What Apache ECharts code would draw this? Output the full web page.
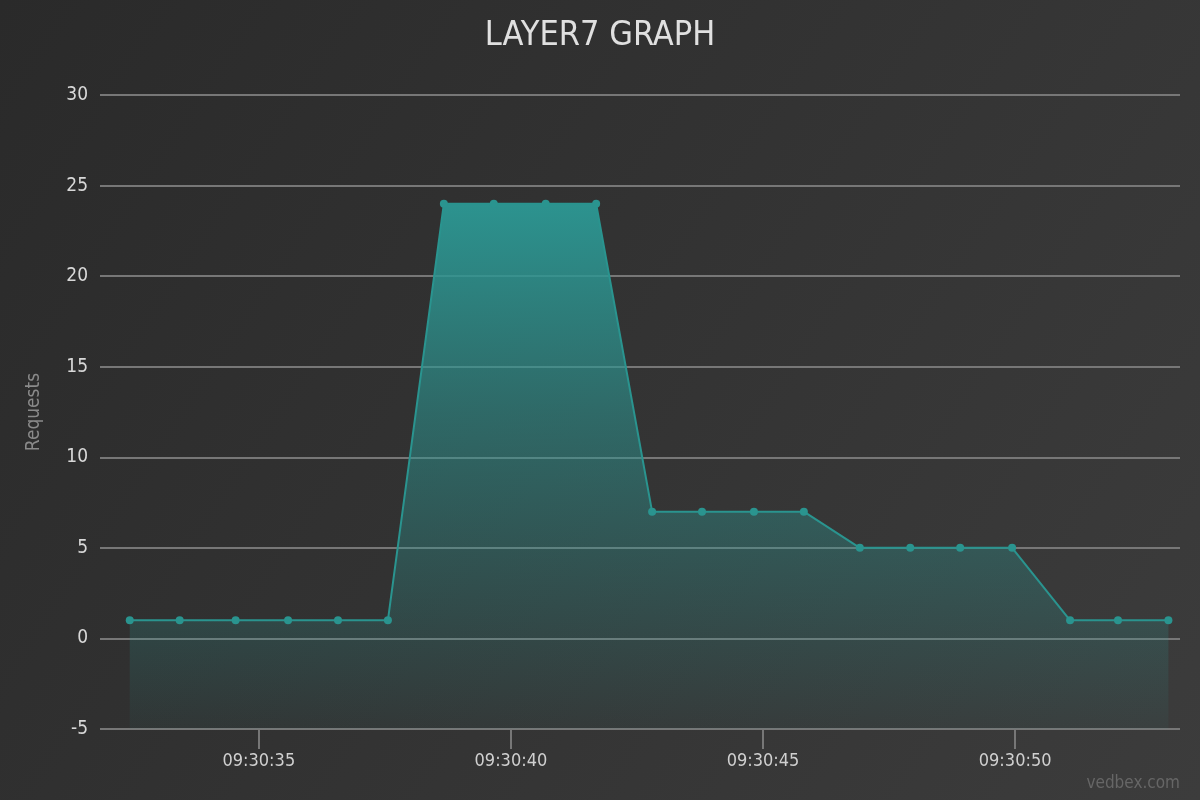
<!DOCTYPE html>
<html>
<head>
<meta charset="utf-8">
<script src="https://cdn.jsdelivr.net/npm/echarts@6/dist/echarts.min.js"></script>
<style>
html,body{margin:0;padding:0;width:1200px;height:800px;overflow:hidden;}
#c{width:1200px;height:800px;}
</style>
</head>
<body>
<div id="c"></div>
<script>
// seconds after 09:30:00
const times = [32.44, 33.43, 34.54, 35.58, 36.57, 37.56, 38.67, 39.66, 40.69, 41.69, 42.80, 43.79, 44.82, 45.81, 46.92, 47.92, 48.91, 49.94, 51.09, 52.04, 53.04];
const requests = [1, 1, 1, 1, 1, 1, 24, 24, 24, 24, 7, 7, 7, 7, 5, 5, 5, 5, 1, 1, 1];
const xTickSeconds = [35, 40, 45, 50];
const titleText = 'LAYER7 GRAPH';
const yAxisName = 'Requests';
const watermark = 'vedbex.com';

const FONT = "'Liberation Sans Narrow', 'DejaVu Sans Condensed', 'Roboto', sans-serif";
const pad = n => (n < 10 ? '0' : '') + n;
const fmt = s => '09:30:' + pad(Math.round(s));

const chart = echarts.init(document.getElementById('c'));
chart.setOption({
  animation: false,
  backgroundColor: {
    type: 'linear', x: 0, y: 0, x2: 1, y2: 1,
    colorStops: [{offset: 0, color: '#2a2a2a'}, {offset: 1, color: '#3c3c3c'}]
  },
  title: {
    text: titleText, left: 'center', top: 14,
    textStyle: {color: '#e0e0e0', fontSize: 34, fontWeight: 'normal', fontFamily: FONT, letterSpacing: 3}
  },
  graphic: [{
    type: 'text', right: 20, bottom: 8,
    style: {text: watermark, fill: '#666666', fontSize: 17, fontFamily: FONT, letterSpacing: 2}
  }],
  grid: {left: 100, right: 20, top: 95, bottom: 71, containLabel: false},
  xAxis: {
    type: 'value', min: 31.85, max: 53.27,
    axisLine: {show: false, onZero: false},
    splitLine: {show: false},
    axisTick: {show: true, customValues: xTickSeconds, length: 20, lineStyle: {color: '#777', width: 2}},
    axisLabel: {show: true, customValues: xTickSeconds, formatter: v => fmt(v), color: '#d0d0d0', fontSize: 18, fontFamily: FONT, margin: 23}
  },
  yAxis: {
    type: 'value', min: -5, max: 30, interval: 5,
    name: yAxisName, nameLocation: 'middle', nameGap: 56, nameRotate: 90,
    nameTextStyle: {color: '#8a8a8a', fontSize: 19, fontFamily: FONT},
    axisLine: {show: false}, axisTick: {show: false},
    axisLabel: {color: '#d8d8d8', fontSize: 19, fontFamily: FONT, margin: 12},
    splitLine: {show: true, lineStyle: {color: '#777777', width: 2}}
  },
  series: [{
    type: 'line',
    data: times.map((t, i) => [t, requests[i]]),
    symbol: 'circle', symbolSize: 8,
    itemStyle: {color: '#2a948f'},
    lineStyle: {color: '#2a948f', width: 2},
    areaStyle: {
      origin: 'start', opacity: 1,
      color: {type: 'linear', x: 0, y: 0, x2: 0, y2: 1,
        colorStops: [{offset: 0, color: 'rgba(44,150,146,0.97)'}, {offset: 0.4, color: 'rgba(44,150,146,0.55)'}, {offset: 1, color: 'rgba(44,150,146,0.05)'}]}
    },
    z: 1
  }]
});
</script>
</body>
</html>
